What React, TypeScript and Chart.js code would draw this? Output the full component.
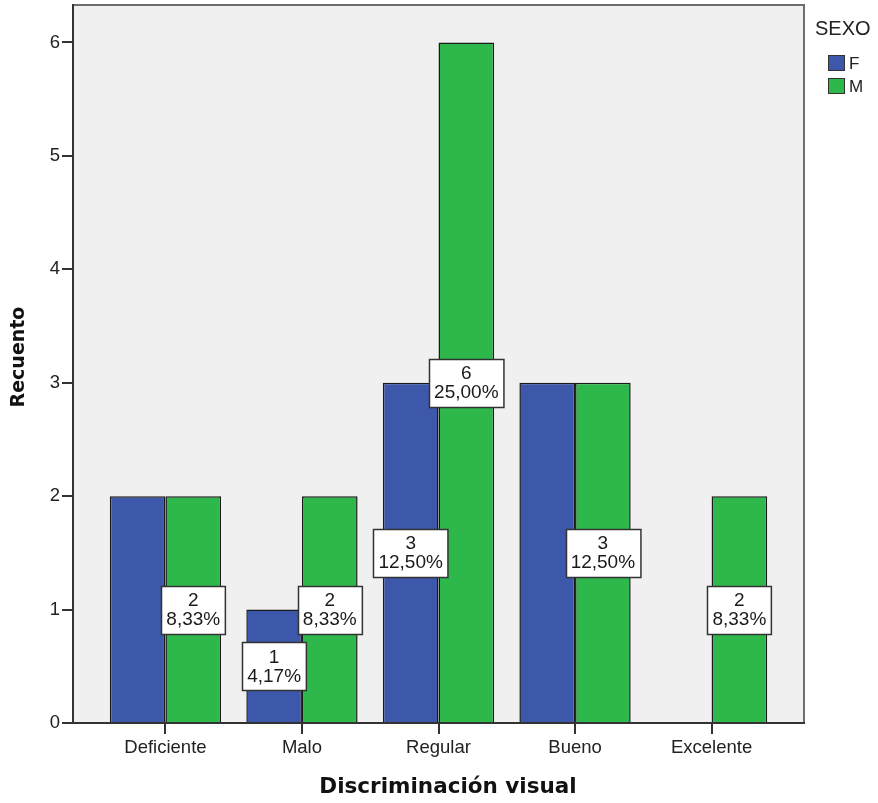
import React, { useEffect, useRef } from "react";
import { Chart, registerables } from "chart.js";

Chart.register(...registerables);

const categories = ["Deficiente", "Malo", "Regular", "Bueno", "Excelente"];
const seriesNames = ["F", "M"];
const valuesF = [2, 1, 3, 3, 0];
const valuesM = [2, 2, 6, 3, 2];
// which bar labels are visible (SPSS hid overlapping ones)
const showLabelF = [false, true, true, false, false];
const showLabelM = [true, true, true, true, true];
const yTicks = [0, 1, 2, 3, 4, 5, 6];
const totalCount = 24;

const colorF = "#3d57aa";
const colorM = "#2eb84b";

export default function App() {
  const ref = useRef<HTMLCanvasElement | null>(null);

  useEffect(() => {
    if (!ref.current) return;
    const sans = "'Liberation Sans', Arial, sans-serif";
    const bold = "'DejaVu Sans', sans-serif";

    const bgPlugin = {
      id: "bg",
      beforeDraw(chart: any) {
        const { ctx, chartArea } = chart;
        ctx.save();
        ctx.fillStyle = "#f0f0f0";
        ctx.fillRect(chartArea.left, chartArea.top, chartArea.right - chartArea.left, chartArea.bottom - chartArea.top);
        ctx.strokeStyle = "#6e6e6e";
        ctx.lineWidth = 2;
        ctx.beginPath();
        ctx.moveTo(chartArea.left, chartArea.top);
        ctx.lineTo(chartArea.right, chartArea.top);
        ctx.lineTo(chartArea.right, chartArea.bottom);
        ctx.stroke();
        ctx.restore();
      },
    };

    const labelPlugin = {
      id: "labels",
      afterDatasetsDraw(chart: any) {
        const { ctx } = chart;
        const yScale = chart.scales.y;
        const shows = [showLabelF, showLabelM];
        ctx.save();
        ctx.font = `19px ${sans}`;
        ctx.textAlign = "center";
        ctx.textBaseline = "middle";
        chart.data.datasets.forEach((ds: any, di: number) => {
          const meta = chart.getDatasetMeta(di);
          ds.data.forEach((d: any, i: number) => {
            if (!shows[di][i] || !d.y) return;
            const el = meta.data[i];
            const cx = el.x;
            const cy = yScale.getPixelForValue(d.y / 2);
            const l1 = String(d.y);
            const l2 = ((d.y / totalCount) * 100).toFixed(2).replace(".", ",") + "%";
            const w = Math.max(ctx.measureText(l1).width, ctx.measureText(l2).width) + 10;
            const h = 48;
            const x0 = Math.round(cx - w / 2) + 0.5;
            const y0 = Math.round(cy - h / 2) + 0.5;
            ctx.fillStyle = "#ffffff";
            ctx.fillRect(x0, y0, w, h);
            ctx.strokeStyle = "#333333";
            ctx.lineWidth = 1.5;
            ctx.strokeRect(x0, y0, w, h);
            ctx.fillStyle = "#1a1a1a";
            ctx.fillText(l1, cx, cy - 9);
            ctx.fillText(l2, cx, cy + 10);
          });
        });
        ctx.restore();
      },
    };

    const decoPlugin = {
      id: "deco",
      afterDraw(chart: any) {
        const { ctx } = chart;
        ctx.save();
        ctx.fillStyle = "#111111";
        ctx.textAlign = "center";
        ctx.textBaseline = "middle";
        ctx.font = `bold 21.5px ${bold}`;
        ctx.fillText("Discriminación visual", 448, 787);
        ctx.font = `bold 19px ${bold}`;
        ctx.save();
        ctx.translate(19, 357);
        ctx.rotate(-Math.PI / 2);
        ctx.fillText("Recuento", 0, 0);
        ctx.restore();
        // legend
        ctx.fillStyle = "#222222";
        ctx.textAlign = "left";
        ctx.font = `20px ${sans}`;
        ctx.fillText("SEXO", 815, 29);
        const cols = [colorF, colorM];
        seriesNames.forEach((n, i) => {
          const y = 55 + i * 23;
          ctx.fillStyle = cols[i];
          ctx.fillRect(828, y, 17, 16);
          ctx.strokeStyle = "#333333";
          ctx.lineWidth = 1;
          ctx.strokeRect(828.5, y + 0.5, 16, 15);
          ctx.fillStyle = "#222222";
          ctx.font = `17px ${sans}`;
          ctx.fillText(n, 849, y + 9);
        });
        ctx.restore();
      },
    };

    const mk = (vals: number[]) => vals.map((v, i) => ({ x: i, y: v }));

    const chart = new Chart(ref.current, {
      type: "bar",
      data: {
        datasets: [
          {
            label: seriesNames[0],
            data: mk(valuesF) as any,
            backgroundColor: colorF,
            borderColor: "#1a1a1a",
            borderWidth: (c: any) => (c.raw && c.raw.y === 0 ? 0 : 1.5),
            categoryPercentage: 0.815,
            barPercentage: 1,
          },
          {
            label: seriesNames[1],
            data: mk(valuesM) as any,
            backgroundColor: colorM,
            borderColor: "#1a1a1a",
            borderWidth: (c: any) => (c.raw && c.raw.y === 0 ? 0 : 1.5),
            categoryPercentage: 0.815,
            barPercentage: 1,
          },
        ],
      },
      options: {
        animation: false,
        responsive: false,
        devicePixelRatio: 1,
        layout: { padding: { top: 5, right: 74, left: 0, bottom: 0 } },
        plugins: { legend: { display: false }, tooltip: { enabled: false } },
        scales: {
          x: {
            type: "linear",
            offset: false,
            min: -0.677,
            max: 4.677,
            afterBuildTicks: (s: any) => {
              s.ticks = categories.map((_, i) => ({ value: i }));
            },
            afterFit: (s: any) => {
              s.height = 80;
              s.paddingLeft = 0;
              s.paddingRight = 0;
            },
            ticks: {
              callback: (v: any) => categories[Math.round(Number(v))] ?? "",
              color: "#222222",
              font: { family: sans, size: 18.5 },
              padding: 3,
              maxRotation: 0,
              autoSkip: false,
            },
            grid: { offset: false, drawOnChartArea: false, drawTicks: true, tickLength: 11, color: "#333333", lineWidth: 2 },
            border: { display: true, color: "#333333", width: 2 },
          },
          y: {
            type: "linear",
            min: 0,
            max: 6.33,
            afterBuildTicks: (s: any) => {
              s.ticks = yTicks.map((v) => ({ value: v }));
            },
            afterFit: (s: any) => {
              s.width = 73;
              s.paddingTop = 0;
              s.paddingBottom = 0;
            },
            ticks: {
              color: "#222222",
              font: { family: sans, size: 18.5 },
              padding: 2,
            },
            grid: { drawOnChartArea: false, drawTicks: true, tickLength: 11, color: "#333333", lineWidth: 2 },
            border: { display: true, color: "#333333", width: 2 },
          },
        },
      },
      plugins: [bgPlugin, labelPlugin, decoPlugin],
    });
    return () => chart.destroy();
  }, []);

  return (
    <div style={{ position: "absolute", left: 0, top: 0, width: 878, height: 803, background: "#ffffff" }}>
      <canvas ref={ref} width={878} height={803} style={{ display: "block", width: 878, height: 803 }} />
    </div>
  );
}
